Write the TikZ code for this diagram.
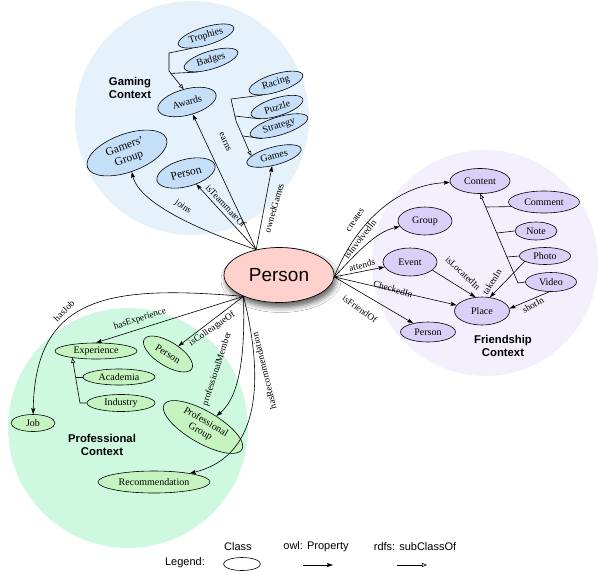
\documentclass[tikz,border=0pt]{standalone}
\usepackage{fontspec}
\setmainfont{Liberation Serif}
\newfontfamily\sansf{Liberation Sans}
\usetikzlibrary{shapes.geometric,arrows.meta,shadows.blur}
\definecolor{gbg}{RGB}{229,242,252}
\definecolor{gnode}{RGB}{197,223,248}
\definecolor{fbg}{RGB}{243,239,252}
\definecolor{fnode}{RGB}{217,208,247}
\definecolor{pbg}{RGB}{206,249,224}
\definecolor{pnode}{RGB}{198,244,192}
\definecolor{personc}{RGB}{255,209,204}
\begin{document}
\begin{tikzpicture}[x=1pt,y=-1pt,
  cls/.style={ellipse,draw,line width=0.6pt,inner sep=0pt,align=center,font=\fontsize{10}{11}\selectfont},
  sz/.style 2 args={minimum width=#1pt,minimum height=#2pt},
  gam/.style={cls,fill=gnode},
  fri/.style={cls,fill=fnode},
  pro/.style={cls,fill=pnode},
  prop/.style={line width=0.6pt,-{Stealth[length=6pt,width=4pt,inset=1pt]}},
  subcls/.style={line width=0.6pt,-{Triangle[open,length=5pt,width=4pt]}},
  joinline/.style={line width=0.6pt},
  lbl/.style={font=\fontsize{9.3}{10}\selectfont,inner sep=0pt},
  ctx/.style={font=\sansf\bfseries\fontsize{11.3}{13.5}\selectfont,align=center},
  leg/.style={font=\sansf\fontsize{11}{13}\selectfont}]
\useasboundingbox (0,0) rectangle (600,574);
\fill[white] (0,0) rectangle (600,574);
% context backgrounds
\fill[gbg] (192,118) circle[radius=117pt];
\fill[fbg] (485,263) circle[radius=113pt];
\fill[pbg] (128,428) circle[radius=120pt];

% central node
\node[ellipse,draw,line width=0.7pt,fill=personc,sz={110}{55},
  blur shadow={shadow xshift=2pt,shadow yshift=-5pt,shadow blur radius=5pt,shadow opacity=60},
  font=\sansf\fontsize{19}{22}\selectfont] (person) at (279,275) {Person};

% gaming context
\node[gam,sz={58}{18},rotate=17] (trophies) at (206,36) {Trophies};
\node[gam,sz={56}{18},rotate=17] (badges) at (211,60) {Badges};
\node[gam,sz={60}{26},rotate=15] (awards) at (187,102) {Awards};
\node[gam,sz={56}{18},rotate=17] (racing) at (276,83) {Racing};
\node[gam,sz={54}{18},rotate=17] (puzzle) at (277,107) {Puzzle};
\node[gam,sz={60}{18},rotate=17] (strategy) at (279,126) {Strategy};
\node[gam,sz={56}{18},rotate=15] (games) at (274,156) {Games};
\node[gam,sz={84}{38},rotate=20,font=\fontsize{11.5}{12.5}\selectfont] (gamers) at (127,153) {Gamers'\\Group};
\node[gam,sz={60}{27},rotate=15,font=\fontsize{11.5}{12}\selectfont] (gperson) at (186,173) {Person};
\node[ctx] (gctx) at (130,88) {Gaming\\Context};

% friendship context
\node[fri,sz={60}{25}] (content) at (480,181) {Content};
\node[fri,sz={54}{28}] (group) at (425,221) {Group};
\node[fri,sz={54}{28}] (event) at (410,262) {Event};
\node[fri,sz={55}{28}] (place) at (482,311) {Place};
\node[fri,sz={55}{20}] (fperson) at (428,332) {Person};
\node[fri,sz={71}{22}] (comment) at (544,202) {Comment};
\node[fri,sz={42}{18}] (note) at (536,231) {Note};
\node[fri,sz={51}{17}] (photo) at (545,256) {Photo};
\node[fri,sz={51}{19}] (video) at (551,282) {Video};
\node[ctx] (fctx) at (503,346) {Friendship\\Context};

% professional context
\node[pro,sz={82}{16}] (experience) at (96,351) {Experience};
\node[pro,sz={56}{24},rotate=-32] (pperson) at (168,354) {Person};
\node[pro,sz={72}{16}] (academia) at (119,377) {Academia};
\node[pro,sz={68}{17}] (industry) at (121,403) {Industry};
\node[pro,sz={44}{17}] (job) at (33,423) {Job};
\node[pro,sz={90}{32},rotate=-30] (progroup) at (203,427) {Professional\\Group};
\node[pro,sz={112}{22}] (recom) at (154,482) {Recommendation};
\node[ctx] (pctx) at (102,445) {Professional\\Context};

% gaming edges
\draw[prop] (person.132) .. controls (205,232) and (140,205) .. (gamers);
\draw[prop] (person.132) -- (gperson);
\draw[prop] (person.132) -- (awards);
\draw[prop] (person.132) -- (games);
\node[lbl,rotate=-35] (l-joins) at (183,207) {joins};
\node[lbl,rotate=-47] (l-team) at (226,206) {isTeammateOf};
\node[lbl,rotate=-66] (l-earns) at (225,142) {earns};
\node[lbl,rotate=74] (l-owned) at (274,208) {ownedGames};
\draw[subcls] (trophies.205) -- (169,53) -- (169,71) -- (awards.north);
\draw[joinline] (badges.205) -- (171,73.4);
\draw[subcls] (racing.205) -- (231,99) -- (236,121) -- (games.165);
\draw[joinline] (puzzle.200) -- (234.9,116);
\draw[joinline] (strategy.200) -- (242.9,136);

% friendship edges
\draw[prop] (person.-2) .. controls (355,225) and (395,185) .. (content);
\draw[prop] (person.-2) .. controls (355,255) and (375,232) .. (group);
\draw[prop] (person.-2) -- (event);
\draw[prop] (person.-2) -- (place);
\draw[prop] (person.-2) -- (fperson);
\draw[prop] (event.-20) -- (place.115);
\draw[prop] (photo.195) -- (place.60);
\draw[prop] (video.260) -- (place.5);
\node[lbl,rotate=55] (l-creates) at (355,220) {creates};
\node[lbl,rotate=52] (l-inv) at (360,239) {isInvolvedIn};
\node[lbl,rotate=14] (l-attends) at (362,265) {attends};
\node[lbl,rotate=-16] (l-checked) at (393,289) {CheckedIn};
\node[lbl,rotate=-36] (l-friend) at (360,309) {isFriendOf};
\node[lbl,rotate=-43] (l-located) at (463,273) {isLocatedIn};
\node[lbl,rotate=58] (l-taken) at (492,282) {takenIn};
\node[lbl,rotate=30] (l-shot) at (533,305) {shotIn};
\draw[subcls] (video.west) -- (518,283) -- (content.south);
\draw[joinline] (comment.188) -- (485.7,207);
\draw[joinline] (note.west) -- (496.8,233);
\draw[joinline] (photo.west) -- (507,257);

% professional edges
\draw[prop] (person.211) .. controls (110,285) and (35,295) .. (job);
\draw[prop] (person.211) -- (experience.north);
\draw[prop] (person.211) -- (pperson);
\draw[prop] (person.211) .. controls (245,345) and (242,395) .. (progroup);
\draw[prop] (person.211) .. controls (262,370) and (265,455) .. (recom);
\node[lbl,rotate=45] (l-job) at (64,311) {hasJob};
\node[lbl,rotate=18] (l-exp) at (140,319) {hasExperience};
\node[lbl,rotate=35] (l-coll) at (212,329) {isColleagueOf};
\node[lbl,rotate=72] (l-member) at (217,369) {professionalMember};
\node[lbl,rotate=104] (l-recom) at (264,371) {hasRecommendation};
\draw[subcls] (industry.west) -- (80,403) -- (experience.196);
\draw[joinline] (academia.west) -- (75.5,377);

% legend
\node[leg] (legend) at (185,563) {Legend:};
\node[leg] (lclass) at (238,547) {Class};
\node[ellipse,draw,line width=0.6pt,sz={37}{13}] (lell) at (242,564) {};
\node[leg] (lprop) at (316,547) {owl: Property};
\coordinate (lp1) at (303,565);
\coordinate (lp2) at (333,565);
\draw[prop] (lp1) -- (lp2);
\node[leg] (lsub) at (415,547) {rdfs: subClassOf};
\coordinate (ls1) at (397,565);
\coordinate (ls2) at (427,565);
\draw[subcls] (ls1) -- (ls2);
\end{tikzpicture}
\end{document}
